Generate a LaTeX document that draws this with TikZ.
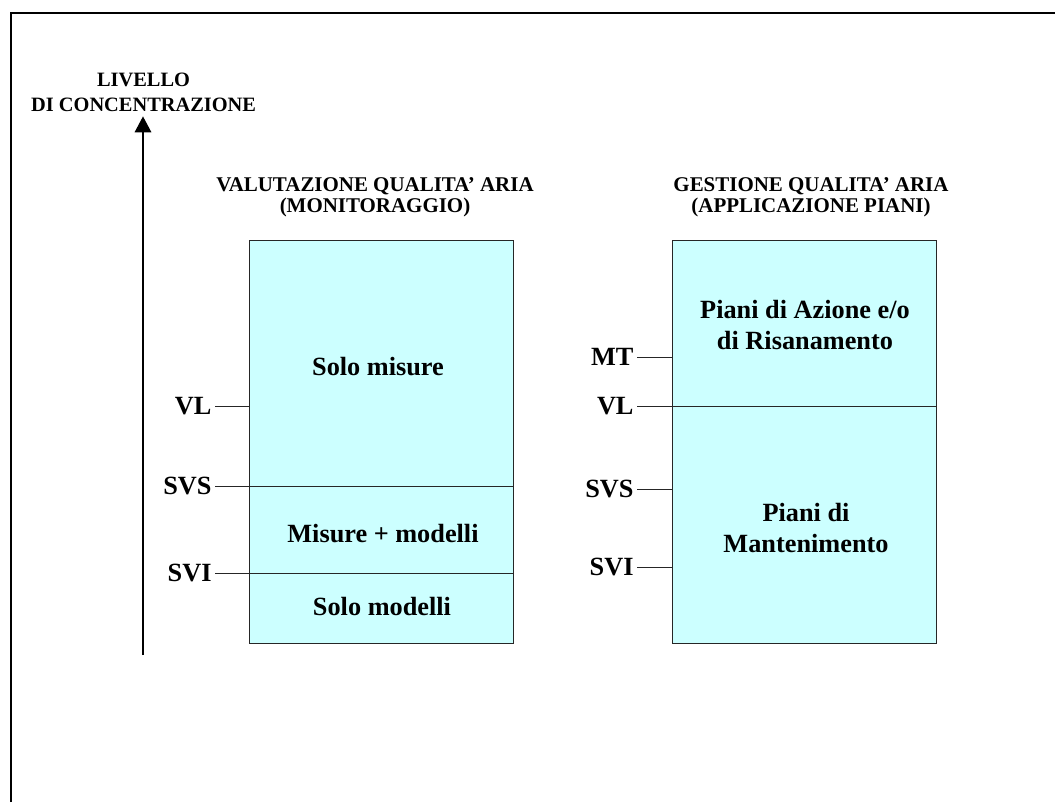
\documentclass[tikz,border=0pt]{standalone}
\usepackage{fontspec}
\setmainfont{Liberation Serif}
\usetikzlibrary{arrows.meta}
\definecolor{celeste}{HTML}{CCFFFF}
\tikzset{
  fascia/.style={draw=black!85,fill=celeste,line width=0.7pt},
  tacca/.style={draw=black!85,line width=0.7pt},
  soglia/.style={anchor=east,inner sep=0.08cm,font=\fontsize{18.7}{22}\selectfont\bfseries},
  testo/.style={align=center,inner sep=0pt,font=\fontsize{18.7}{22}\selectfont\bfseries},
  titolo/.style={align=center,inner sep=0pt,font=\fontsize{14.9}{14.9}\selectfont\bfseries},
}
\begin{document}
\begin{tikzpicture}
\useasboundingbox (0,0) rectangle (26.375,20.05);
\draw[line width=1.9pt] (0.275,0) |- (26.375,19.725);

% asse
\node[align=center,font=\fontsize{14.5}{17.7}\selectfont\bfseries] (livello) at (3.59,17.75)
{LIVELLO\\DI CONCENTRAZIONE};
\coordinate (asse) at (3.575,3.675);
\draw[line width=2.1pt,-{Triangle[width=0.4cm,length=0.4cm]}] (asse) -- (asse |- livello.south);

% valutazione
\node[titolo] (valtit) at (9.375,15.11) {VALUTAZIONE QUALITA’ ARIA\\(MONITORAGGIO)};
\path[fascia] (6.225,3.975) rectangle (12.825,14.05);
\node[testo] (solomis) at (9.45,10.875) {Solo misure};
\node[testo] (mismod) at (9.575,6.7) {Misure + modelli};
\node[testo] (solomod) at (9.55,4.8875) {Solo modelli};

\node[soglia] (vlA) at (5.375,9.9) {VL};
\coordinate (vlAr) at (6.225,9.9);
\draw[tacca] (vlA) -- (vlAr);
\node[soglia] (svsA) at (5.375,7.9) {SVS};
\coordinate (svsAr) at (12.825,7.9);
\draw[tacca] (svsA) -- (svsAr);
\node[soglia] (sviA) at (5.375,5.725) {SVI};
\coordinate (sviAr) at (12.825,5.725);
\draw[tacca] (sviA) -- (sviAr);

% gestione
\node[titolo] (gestit) at (20.275,15.11) {GESTIONE QUALITA’ ARIA\\(APPLICAZIONE PIANI)};
\path[fascia] (16.8,3.975) rectangle (23.4,14.05);
\node[testo] (azione) at (20.125,11.925) {Piani di Azione e/o\\di Risanamento};
\node[testo] (mante) at (20.15,6.85) {Piani di\\Mantenimento};

\node[soglia] (mtB) at (15.925,11.125) {MT};
\coordinate (mtBr) at (16.8,11.125);
\draw[tacca] (mtB) -- (mtBr);
\node[soglia] (vlB) at (15.925,9.9) {VL};
\coordinate (vlBr) at (23.4,9.9);
\draw[tacca] (vlB) -- (vlBr);
\node[soglia] (svsB) at (15.925,7.825) {SVS};
\coordinate (svsBr) at (16.8,7.825);
\draw[tacca] (svsB) -- (svsBr);
\node[soglia] (sviB) at (15.925,5.875) {SVI};
\coordinate (sviBr) at (16.8,5.875);
\draw[tacca] (sviB) -- (sviBr);
\end{tikzpicture}
\end{document}
